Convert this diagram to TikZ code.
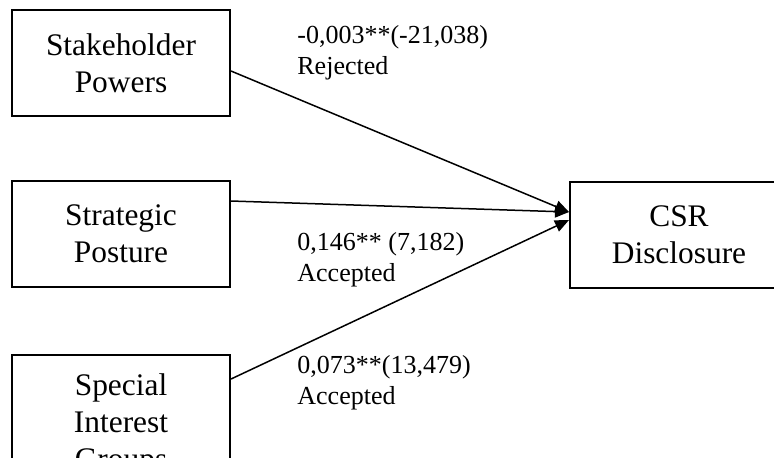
\documentclass[tikz,border=0pt]{standalone}
\usepackage{fontspec}
\setmainfont{Liberation Serif}
\usetikzlibrary{arrows.meta}

\tikzset{
	varbox/.style={draw, line width=1pt, align=center, inner sep=0pt,
		minimum width=109pt, minimum height=53pt,
		font=\fontsize{15.7pt}{18.7pt}\selectfont},
	estlabel/.style={align=left, inner sep=0pt, anchor=north west,
		font=\fontsize{13pt}{15.5pt}\selectfont},
	path/.style={line width=0.75pt, -{Triangle[length=7pt,width=6pt]}}
}

\begin{document}
\begin{tikzpicture}[x=0.5pt, y=-0.5pt]
			%%%%% START %%%%%
			
			\useasboundingbox (0, 0) rectangle (774, 457);
			\clip (0, 0) rectangle (774, 457);
			
			\node[varbox] (sp) at (121, 63) {Stakeholder\\Powers};
			\node[varbox] (sg) at (121, 234) {Strategic\\Posture};
			\node[varbox, minimum height=70pt] (sig) at (121, 425) {Special\\Interest\\Groups};
			\node[varbox] (csr) at (679, 234.5) {CSR\\Disclosure};
			
			\draw[path] ([yshift=-4pt]sp.east) -- ([yshift=11.25pt]csr.west);
			\draw[path] ([yshift=16.5pt]sg.east) -- ([yshift=11.25pt]csr.west);
			\draw[path] ([yshift=23pt]sig.east) -- ([yshift=7.25pt]csr.west);
			
			\node[estlabel] (l1) at (297, 25) {-0,003**(-21,038)\\Rejected};
			\node[estlabel] (l2) at (297, 232) {0,146** (7,182)\\Accepted};
			\node[estlabel] (l3) at (297, 355) {0,073**(13,479)\\Accepted};
			
			%%%%% END %%%%%
\end{tikzpicture}
\end{document}
